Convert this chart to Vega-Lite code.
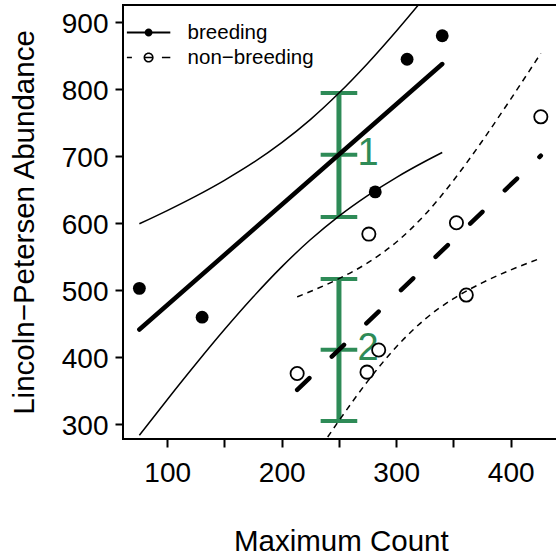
{
  "$schema": "https://vega.github.io/schema/vega-lite/v6.json",
  "width": 435,
  "height": 434,
  "autosize": {"type": "none"},
  "padding": {"left": 123, "top": 5, "right": -2, "bottom": 121},
  "background": "white",
  "config": {
    "view": {"stroke": "black", "strokeWidth": 2},
    "font": "Liberation Sans",
    "axis": {
      "domain": false, "tickColor": "black", "tickWidth": 2, "tickSize": 8,
      "labelColor": "black", "labelFont": "Liberation Sans", "labelFontSize": 28,
      "titleFont": "Liberation Sans", "titleFontSize": 29.5, "titleFontWeight": "normal", "titleColor": "black",
      "grid": false
    }
  },
  "datasets": {
    "points": [
      {"x": 75.7, "y": 502, "group": "breeding"},
      {"x": 130.5, "y": 459, "group": "breeding"},
      {"x": 281.7, "y": 646, "group": "breeding"},
      {"x": 309.5, "y": 844, "group": "breeding"},
      {"x": 340.2, "y": 879, "group": "breeding"},
      {"x": 213.5, "y": 375, "group": "non−breeding"},
      {"x": 276.1, "y": 583, "group": "non−breeding"},
      {"x": 284.7, "y": 410, "group": "non−breeding"},
      {"x": 274.5, "y": 377, "group": "non−breeding"},
      {"x": 352.6, "y": 600, "group": "non−breeding"},
      {"x": 361.2, "y": 492, "group": "non−breeding"},
      {"x": 426.3, "y": 758, "group": "non−breeding"}
    ],
    "curves": [
      {"curve": "b_fit", "x": 75.7, "y": 440.6},
      {"curve": "b_fit", "x": 340.2, "y": 836.8},
      {"curve": "b_up", "x": 75.7, "y": 598.4},
      {"curve": "b_up", "x": 100, "y": 618.1},
      {"curve": "b_up", "x": 125, "y": 639.7},
      {"curve": "b_up", "x": 150, "y": 663.3},
      {"curve": "b_up", "x": 175, "y": 689.5},
      {"curve": "b_up", "x": 200, "y": 719.5},
      {"curve": "b_up", "x": 225, "y": 753.9},
      {"curve": "b_up", "x": 250, "y": 793.5},
      {"curve": "b_up", "x": 275, "y": 837.7},
      {"curve": "b_up", "x": 300, "y": 885.8},
      {"curve": "b_up", "x": 325, "y": 936.7},
      {"curve": "b_up", "x": 340.2, "y": 968.7},
      {"curve": "b_lo", "x": 75.7, "y": 282.9},
      {"curve": "b_lo", "x": 100, "y": 335.9},
      {"curve": "b_lo", "x": 125, "y": 389.1},
      {"curve": "b_lo", "x": 150, "y": 440.5},
      {"curve": "b_lo", "x": 175, "y": 489.1},
      {"curve": "b_lo", "x": 200, "y": 534.1},
      {"curve": "b_lo", "x": 225, "y": 574.5},
      {"curve": "b_lo", "x": 250, "y": 609.9},
      {"curve": "b_lo", "x": 275, "y": 640.5},
      {"curve": "b_lo", "x": 300, "y": 667.4},
      {"curve": "b_lo", "x": 325, "y": 691.3},
      {"curve": "b_lo", "x": 340.2, "y": 704.8},
      {"curve": "n_fit", "x": 213.5, "y": 350.5},
      {"curve": "n_fit", "x": 426.3, "y": 700},
      {"curve": "n_up", "x": 213.5, "y": 489.3},
      {"curve": "n_up", "x": 225, "y": 497.3},
      {"curve": "n_up", "x": 250, "y": 516.5},
      {"curve": "n_up", "x": 275, "y": 540.0},
      {"curve": "n_up", "x": 300, "y": 570.9},
      {"curve": "n_up", "x": 325, "y": 611.8},
      {"curve": "n_up", "x": 350, "y": 663.1},
      {"curve": "n_up", "x": 375, "y": 721.6},
      {"curve": "n_up", "x": 400, "y": 784.5},
      {"curve": "n_up", "x": 426.3, "y": 852.8},
      {"curve": "n_lo", "x": 213.5, "y": 211.4},
      {"curve": "n_lo", "x": 225, "y": 241.5},
      {"curve": "n_lo", "x": 250, "y": 304.5},
      {"curve": "n_lo", "x": 275, "y": 363.2},
      {"curve": "n_lo", "x": 300, "y": 414.5},
      {"curve": "n_lo", "x": 325, "y": 455.8},
      {"curve": "n_lo", "x": 350, "y": 486.7},
      {"curve": "n_lo", "x": 375, "y": 510.2},
      {"curve": "n_lo", "x": 400, "y": 529.5},
      {"curve": "n_lo", "x": 426.3, "y": 547}
    ],
    "errbars": [
      {"x": 250, "lo": 608.5, "mid": 701.5, "hi": 793.6, "label": "1"},
      {"x": 250, "lo": 304, "mid": 410.5, "hi": 516, "label": "2"}
    ]
  },
  "layer": [
    {
      "data": {"name": "errbars"},
      "mark": {"type": "rule", "color": "#2E8B57", "strokeWidth": 5},
      "encoding": {
        "x": {
          "field": "x", "type": "quantitative",
          "scale": {"domain": [61.4, 441.3], "nice": false, "zero": false},
          "axis": {
            "values": [100, 150, 200, 250, 300, 350, 400],
            "labelExpr": "datum.value % 100 === 0 ? datum.label : ''",
            "title": "Maximum Count",
            "titleX": 217.8, "titleY": 111.5, "titleBaseline": "alphabetic", "titleAlign": "center",
            "labelBaseline": "alphabetic", "labelPadding": 34.5,
            "labelFlush": false, "labelOverlap": false
          }
        },
        "y": {
          "field": "lo", "type": "quantitative",
          "scale": {"domain": [277.2, 924.9], "nice": false, "zero": false},
          "axis": {
            "values": [300, 400, 500, 600, 700, 800, 900],
            "title": "Lincoln−Petersen Abundance",
            "titleX": -89.7, "titleY": 217, "titleAngle": -90, "titleBaseline": "alphabetic", "titleAlign": "center",
            "labelBaseline": "alphabetic", "labelOffset": 10.5, "labelPadding": 7,
            "labelFlush": false, "labelOverlap": false
          }
        },
        "y2": {"field": "hi"}
      }
    },
    {
      "data": {"name": "errbars"},
      "transform": [{"fold": ["lo", "mid", "hi"], "as": ["which", "yv"]}],
      "mark": {"type": "tick", "orient": "horizontal", "color": "#2E8B57", "size": 36.6, "thickness": 4, "opacity": 1},
      "encoding": {
        "x": {"field": "x", "type": "quantitative"},
        "y": {"field": "yv", "type": "quantitative"}
      }
    },
    {
      "data": {"name": "errbars"},
      "mark": {"type": "text", "color": "#2E8B57", "fontSize": 38, "font": "Liberation Sans", "align": "left", "baseline": "alphabetic", "dx": 18.5, "dy": 10},
      "encoding": {
        "x": {"field": "x", "type": "quantitative"},
        "y": {"field": "mid", "type": "quantitative"},
        "text": {"field": "label"}
      }
    },
    {
      "data": {"name": "curves"},
      "transform": [{"filter": "datum.curve === 'b_up'"}],
      "mark": {"type": "line", "color": "black", "strokeWidth": 1.5, "clip": true, "interpolate": "monotone"},
      "encoding": {"x": {"field": "x", "type": "quantitative"}, "y": {"field": "y", "type": "quantitative"}}
    },
    {
      "data": {"name": "curves"},
      "transform": [{"filter": "datum.curve === 'b_lo'"}],
      "mark": {"type": "line", "color": "black", "strokeWidth": 1.5, "clip": true, "interpolate": "monotone"},
      "encoding": {"x": {"field": "x", "type": "quantitative"}, "y": {"field": "y", "type": "quantitative"}}
    },
    {
      "data": {"name": "curves"},
      "transform": [{"filter": "datum.curve === 'n_up'"}],
      "mark": {"type": "line", "color": "black", "strokeWidth": 1.5, "strokeDash": [6, 5], "clip": true, "interpolate": "monotone"},
      "encoding": {"x": {"field": "x", "type": "quantitative"}, "y": {"field": "y", "type": "quantitative"}}
    },
    {
      "data": {"name": "curves"},
      "transform": [{"filter": "datum.curve === 'n_lo'"}],
      "mark": {"type": "line", "color": "black", "strokeWidth": 1.5, "strokeDash": [6, 5], "clip": true, "interpolate": "monotone"},
      "encoding": {"x": {"field": "x", "type": "quantitative"}, "y": {"field": "y", "type": "quantitative"}}
    },
    {
      "data": {"name": "curves"},
      "transform": [{"filter": "datum.curve === 'b_fit'"}],
      "mark": {"type": "line", "color": "black", "strokeWidth": 4.5, "strokeCap": "round", "clip": true},
      "encoding": {"x": {"field": "x", "type": "quantitative"}, "y": {"field": "y", "type": "quantitative"}}
    },
    {
      "data": {"name": "curves"},
      "transform": [{"filter": "datum.curve === 'n_fit'"}],
      "mark": {"type": "line", "color": "black", "strokeWidth": 4.5, "strokeCap": "round", "strokeDash": [17, 31], "clip": true},
      "encoding": {"x": {"field": "x", "type": "quantitative"}, "y": {"field": "y", "type": "quantitative"}}
    },
    {
      "data": {"name": "points"},
      "transform": [{"filter": "datum.group === 'breeding'"}],
      "mark": {"type": "point", "shape": "circle", "filled": true, "color": "black", "size": 165, "opacity": 1},
      "encoding": {"x": {"field": "x", "type": "quantitative"}, "y": {"field": "y", "type": "quantitative"}}
    },
    {
      "data": {"name": "points"},
      "transform": [{"filter": "datum.group !== 'breeding'"}],
      "mark": {"type": "point", "shape": "circle", "filled": false, "color": "black", "strokeWidth": 1.8, "size": 175, "opacity": 1},
      "encoding": {"x": {"field": "x", "type": "quantitative"}, "y": {"field": "y", "type": "quantitative"}}
    },
    {
      "data": {"name": "points"},
      "mark": {"type": "point", "opacity": 0, "filled": true, "color": "black", "strokeWidth": 0},
      "encoding": {
        "x": {"field": "x", "type": "quantitative"},
        "y": {"field": "y", "type": "quantitative"},
        "shape": {
          "field": "group", "type": "nominal",
          "scale": {"domain": ["breeding", "non−breeding"], "range": [
            "M-1.81,-0.083H1.81V0.083H-1.81ZM-0.33,0A0.33,0.33,0,1,1,0.33,0A0.33,0.33,0,1,1,-0.33,0Z",
            "M-1.81,-0.065H-1.39V0.065H-1.81ZM1.11,-0.065H1.81V0.065H1.11ZM-0.42,0A0.42,0.42,0,1,1,0.42,0A0.42,0.42,0,1,1,-0.42,0ZM-0.29,0A0.29,0.29,0,1,0,0.29,0A0.29,0.29,0,1,0,-0.29,0ZM-0.29,-0.065H0.29V0.065H-0.29Z"
          ]},
          "legend": {"orient": "none", "legendX": 13.6, "legendY": 15.5, "title": null, "padding": 0, "labelFontSize": 20.5, "labelFont": "Liberation Sans", "labelColor": "black", "labelOffset": 27, "symbolFillColor": "black", "symbolStrokeColor": "transparent", "symbolStrokeWidth": 0, "symbolOpacity": 1, "symbolSize": 576, "rowPadding": 2}
        }
      }
    }
  ]
}
